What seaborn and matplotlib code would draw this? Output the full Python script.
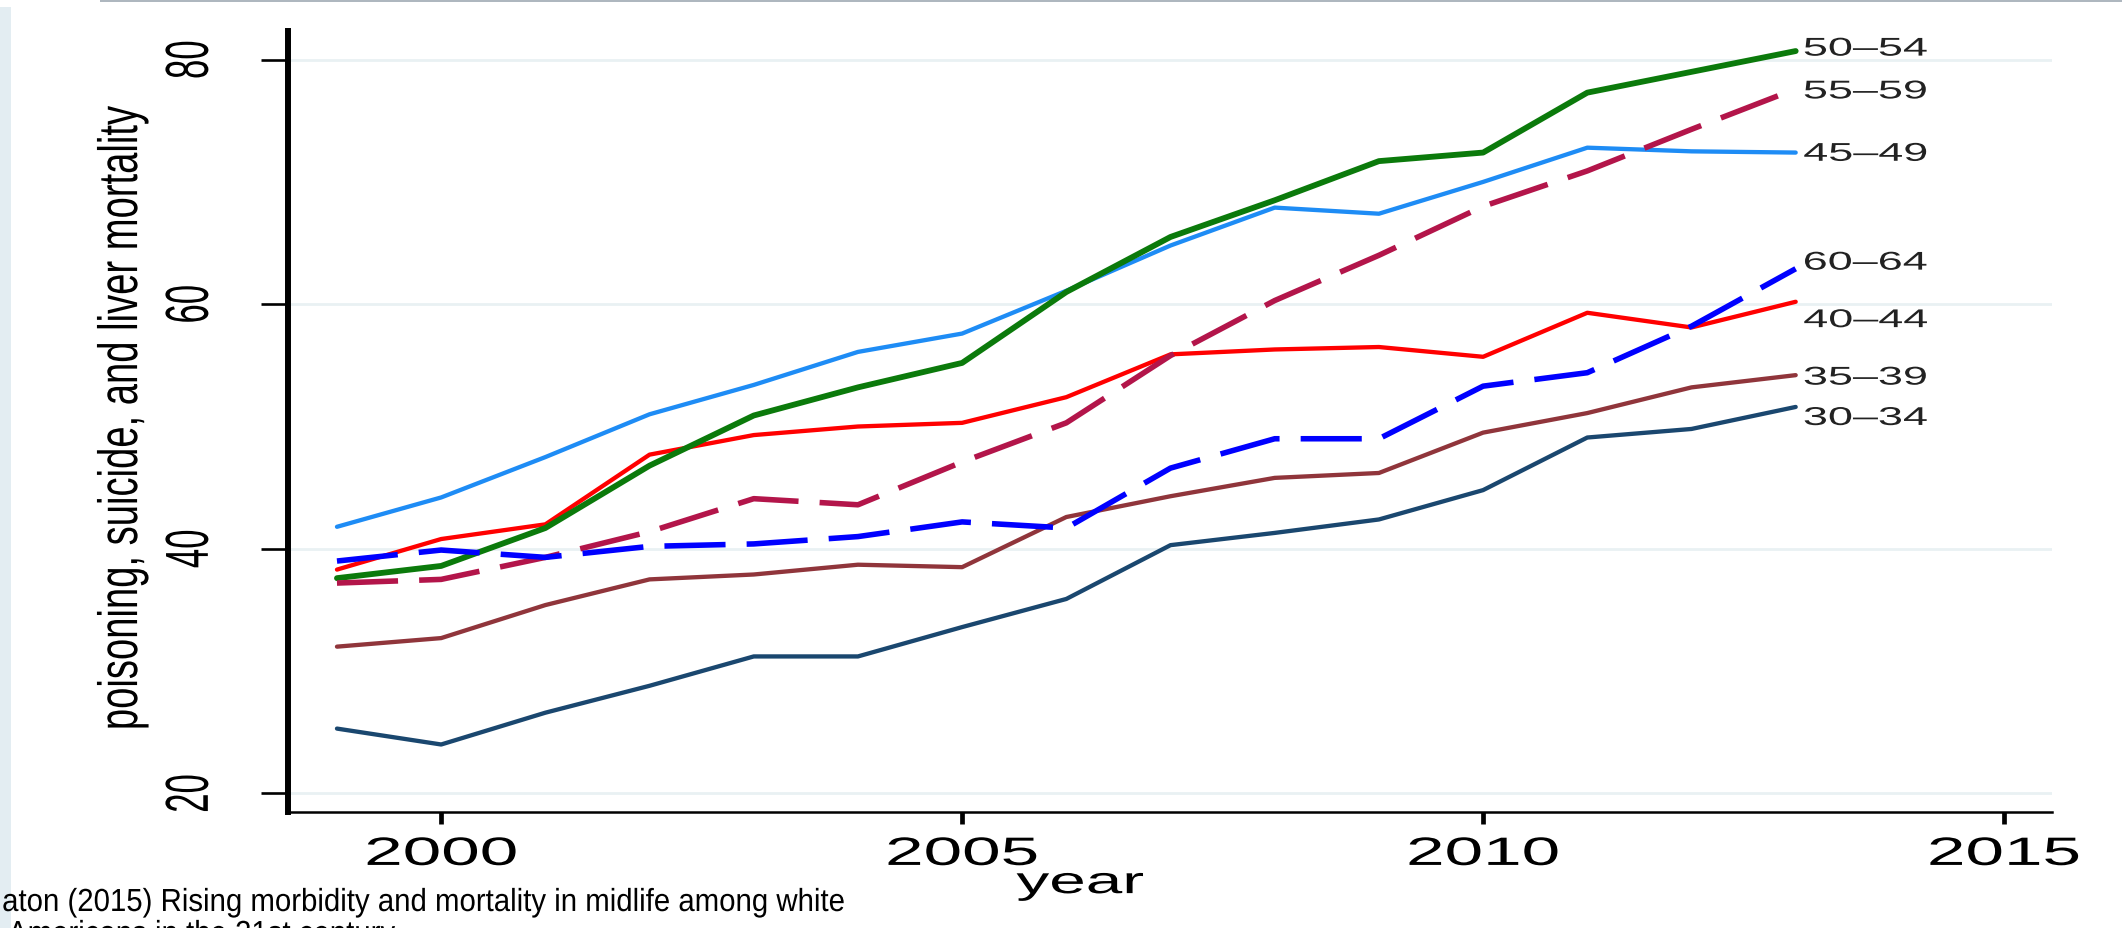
import matplotlib
matplotlib.use("Agg")
import matplotlib.pyplot as plt
import numpy as np
import pandas as pd
import seaborn as sns
from matplotlib.patheffects import AbstractPathEffect
from matplotlib.transforms import Affine2D
from matplotlib.patches import Rectangle

# ---- data: poisoning, suicide and liver mortality by age group ----
years = list(range(1999, 2014))
age_groups = ["30–34", "35–39", "40–44", "45–49", "50–54", "55–59", "60–64"]

mort_30_34 = [25.3, 24.0, 26.6, 28.8, 31.2, 31.2, 33.6, 35.9, 40.3, 41.3, 42.4, 44.8, 49.1, 49.8, 51.6]
mort_35_39 = [32.0, 32.7, 35.4, 37.5, 37.9, 38.7, 38.5, 42.6, 44.3, 45.8, 46.2, 49.5, 51.1, 53.2, 54.2]
mort_40_44 = [38.3, 40.8, 42.0, 47.7, 49.3, 50.0, 50.3, 52.4, 55.9, 56.3, 56.5, 55.7, 59.3, 58.1, 60.2]
mort_45_49 = [41.8, 44.2, 47.5, 51.0, 53.4, 56.1, 57.6, 61.1, 64.8, 67.9, 67.4, 70.0, 72.8, 72.5, 72.4]
mort_50_54 = [37.6, 38.6, 41.7, 46.8, 50.9, 53.2, 55.2, 61.0, 65.5, 68.5, 71.7, 72.4, 77.3, 79.0, 80.7]
mort_55_59 = [37.2, 37.5, 39.3, 41.4, 44.1, 43.6, 47.1, 50.3, 55.8, 60.3, 64.0, 68.0, 70.9, 74.3, 77.6]
mort_60_64 = [39.0, 39.9, 39.3, 40.2, 40.4, 41.0, 42.2, 41.7, 46.6, 49.0, 49.0, 53.3, 54.4, 58.2, 62.9]

# vertical placement of the end-of-line group labels (data units)
label_levels = [50.7, 54.0, 58.7, 72.3, 80.9, 77.4, 63.4]

y_ticks = [20, 40, 60, 80]
x_ticks = [2000, 2005, 2010, 2015]

series = [mort_30_34, mort_35_39, mort_40_44, mort_45_49, mort_50_54, mort_55_59, mort_60_64]
df = pd.DataFrame({
    "year": np.tile(years, len(age_groups)),
    "rate": np.concatenate(series),
    "age": np.repeat(age_groups, len(years)),
})

palette = {
    "30–34": "#1a476f",
    "35–39": "#90353b",
    "40–44": "#ff0000",
    "45–49": "#1e8cf5",
    "50–54": "#0b7a0b",
    "55–59": "#b3154a",
    "60–64": "#0000ff",
}
dashes = {g: "" for g in age_groups}
dashes["55–59"] = (11, 3.8)
dashes["60–64"] = (11, 3.8)
widths = {g: 3.1 for g in age_groups}
widths["50–54"] = 4.2
widths["55–59"] = 4.0
widths["60–64"] = 4.0


class WideGlyphs(AbstractPathEffect):
    """Draw text glyphs stretched horizontally in display space."""

    def __init__(self, sx, anchor="center"):
        super().__init__()
        self.sx = sx
        self.anchor = anchor

    def draw_path(self, renderer, gc, tpath, affine, rgbFace=None):
        ext = tpath.get_extents(affine)
        if self.anchor == "left":
            x0 = ext.x0
        elif self.anchor == "right":
            x0 = ext.x1
        else:
            x0 = 0.5 * (ext.x0 + ext.x1)
        tr = affine + Affine2D().translate(-x0, 0).scale(self.sx, 1.0).translate(x0, 0)
        renderer.draw_path(gc, tpath, tr, rgbFace)


SX = 1.75

sns.set_theme(style="white")
plt.rcParams["font.family"] = ["Liberation Sans", "DejaVu Sans"]

W, H = 2122, 929
fig = plt.figure(figsize=(W / 100, H / 100), dpi=100)
fig.patch.set_facecolor("white")

ax_left, ax_right, ax_top, ax_bot = 288, 2052, 32, 813
ax = fig.add_axes([ax_left / W, 1 - ax_bot / H, (ax_right - ax_left) / W, (ax_bot - ax_top) / H])

# horizontal grid
for v in y_ticks:
    ax.axhline(v, color="#e9f1f3", lw=2.0, zorder=0)

sns.lineplot(
    data=df, x="year", y="rate", hue="age", style="age", size="age",
    palette=palette, dashes=dashes, sizes=widths,
    hue_order=age_groups, style_order=age_groups, size_order=age_groups,
    legend=False, ax=ax, zorder=3,
)
for ln in ax.lines:
    ln.set_solid_capstyle("round")
    ln.set_solid_joinstyle("round")

ax.set_xlim(1998.53, 2015.46)
ax.set_ylim(18.48, 82.34)

for side in ["top", "right"]:
    ax.spines[side].set_visible(False)
ax.spines["left"].set_linewidth(4.3)
ax.spines["left"].set_color("black")
ax.spines["bottom"].set_linewidth(1.8)
ax.spines["bottom"].set_color("black")

ax.set_yticks(y_ticks, labels=[str(v) for v in y_ticks])
ax.set_xticks(x_ticks, labels=[str(v) for v in x_ticks])
ax.tick_params(axis="y", which="major", direction="out", length=19.5, width=1.9,
               color="black", labelsize=25, pad=33, left=True)
ax.tick_params(axis="x", which="major", direction="out", length=8.5, width=3.4,
               color="black", labelsize=28.5, pad=8, bottom=True)
for lbl in ax.get_yticklabels():
    lbl.set_rotation(90)
    lbl.set_va("center")
    lbl.set_ha("right")
    lbl.set_color("black")
    lbl.set_path_effects([WideGlyphs(SX, "right")])
for lbl in ax.get_xticklabels():
    lbl.set_color("black")
    lbl.set_path_effects([WideGlyphs(SX, "center")])

ax.set_xlabel("year", fontsize=27, color="black")
ax.xaxis.set_label_coords(0.449, -0.068)
ax.xaxis.label.set_va("top")
ax.xaxis.label.set_path_effects([WideGlyphs(SX, "center")])

ax.set_ylabel("poisoning, suicide, and liver mortality", fontsize=27.5, color="black")
ax.yaxis.set_label_coords(-0.079, 0.505)
ax.yaxis.label.set_path_effects([WideGlyphs(1.45, "right")])

# group labels at line ends
for g, lvl in zip(age_groups, label_levels):
    ax.annotate(g, xy=(years[-1], lvl), xytext=(8, 0), textcoords="offset pixels",
                ha="left", va="center", fontsize=18.5, color="#222222",
                path_effects=[WideGlyphs(SX, "left")], annotation_clip=False)

# citation lines under the chart
cap_fx = WideGlyphs(0.92, "left")
fig.text(2 / W, 1 - 889 / H, "aton (2015) Rising morbidity and mortality in midlife among white",
         ha="left", va="top", fontsize=23, color="black", path_effects=[cap_fx])
fig.text(8 / W, 1 - 921 / H, "Americans in the 21st century",
         ha="left", va="top", fontsize=23, color="black", path_effects=[cap_fx])

# window frame edges
fig.patches.append(Rectangle((0, 0), 11 / W, 1 - 8 / H, transform=fig.transFigure,
                             facecolor="#e3edf2", edgecolor="none", zorder=-1))
fig.patches.append(Rectangle((100 / W, 1 - 3 / H), 1, 3 / H, transform=fig.transFigure,
                             facecolor="#aeb7bf", edgecolor="none", zorder=-1))

fig.savefig("out.png", dpi=100, facecolor="white")
